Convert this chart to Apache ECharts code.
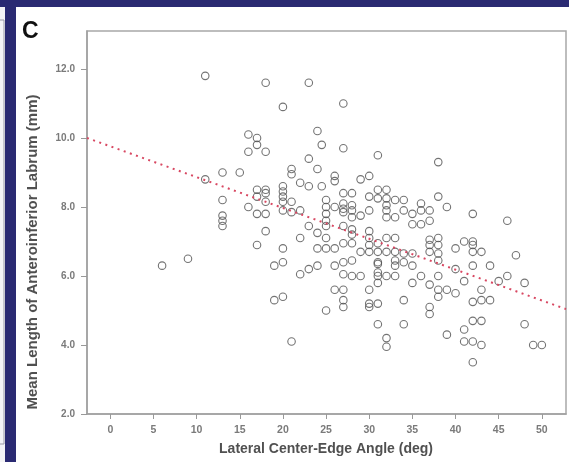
<!DOCTYPE html>
<html><head><meta charset="utf-8">
<script src="https://cdn.jsdelivr.net/npm/echarts@6/dist/echarts.min.js"></script>
<style>html,body{margin:0;padding:0;background:#2a2a72;}#c{width:569px;height:462px;}</style>
</head><body><div id="c"></div>
<script>
// Lateral center-edge angle (deg) and mean labrum length (mm), paired by index
const ceAngle = [
  6, 9, 11, 11,
  13, 13, 13, 13, 13, 15, 16, 16, 16,
  17, 17, 17, 17, 17, 17,
  18, 18, 18, 18, 18, 18, 18,
  19, 19,
  20, 20, 20, 20, 20, 20, 20, 20, 20,
  21, 21, 21, 21, 21,
  22, 22, 22, 22,
  23, 23, 23, 23, 23,
  24, 24, 24, 24, 24, 24.5, 24.5,
  25, 25, 25, 25, 25, 25, 25, 25,
  26, 26, 26, 26, 26, 26,
  27, 27, 27, 27, 27, 27, 27, 27, 27, 27, 27, 27, 27,
  28, 28, 28, 28, 28, 28, 28, 28, 28,
  29, 29, 29, 29,
  30, 30, 30, 30, 30, 30, 30, 30, 30, 30,
  31, 31, 31, 31, 31, 31, 31, 31, 31, 31, 31, 31,
  32, 32, 32, 32, 32, 32, 32, 32, 32, 32,
  33, 33, 33, 33, 33, 33, 33,
  34, 34, 34, 34, 34, 34,
  35, 35, 35, 35, 35,
  36, 36, 36, 36,
  37, 37, 37, 37, 37, 37, 37, 37,
  38, 38, 38, 38, 38, 38, 38, 38, 38,
  39, 39, 39,
  40, 40, 40,
  41, 41, 41, 41,
  42, 42, 42, 42, 42, 42, 42, 42, 42,
  43, 43, 43, 43, 43,
  44, 44, 45, 46, 46, 47, 48, 48, 49, 50
];
const labrumLength = [
  6.3, 6.5, 11.8, 8.8,
  9.0, 8.2, 7.75, 7.6, 7.45, 9.0, 10.1, 9.6, 8.0,
  10.0, 9.8, 8.5, 8.3, 7.8, 6.9,
  11.6, 9.6, 8.5, 8.4, 8.15, 7.8, 7.3,
  6.3, 5.3,
  10.9, 8.6, 8.45, 8.3, 8.15, 7.9, 6.8, 6.4, 5.4,
  9.1, 8.95, 8.15, 7.85, 4.1,
  8.7, 7.9, 7.1, 6.05,
  11.6, 9.4, 8.6, 7.45, 6.2,
  10.2, 9.1, 7.25, 6.8, 6.3, 9.8, 8.6,
  8.2, 8.0, 7.8, 7.6, 7.45, 7.1, 6.8, 5.0,
  8.9, 8.75, 8.0, 6.8, 6.3, 5.6,
  11.0, 9.7, 8.4, 8.1, 7.95, 7.85, 7.45, 6.95, 6.4, 6.05, 5.6, 5.3, 5.1,
  8.4, 8.05, 7.9, 7.7, 7.35, 7.2, 6.95, 6.45, 6.0,
  8.8, 7.75, 6.7, 6.0,
  8.9, 8.3, 7.9, 7.3, 7.1, 6.9, 6.7, 5.6, 5.2, 5.1,
  9.5, 8.5, 8.25, 6.95, 6.7, 6.4, 6.35, 6.1, 6.0, 5.8, 5.2, 4.6,
  8.5, 8.25, 8.05, 7.9, 7.7, 7.1, 6.7, 6.0, 4.2, 3.95,
  8.2, 7.7, 7.1, 6.7, 6.45, 6.3, 6.0,
  8.2, 7.9, 6.65, 6.4, 5.3, 4.6,
  7.8, 7.5, 6.65, 6.3, 5.8,
  8.1, 7.9, 7.5, 6.0,
  7.9, 7.6, 7.05, 6.9, 6.7, 5.75, 5.1, 4.9,
  9.3, 8.3, 7.1, 6.9, 6.65, 6.45, 6.0, 5.6, 5.4,
  8.0, 5.6, 4.3,
  6.8, 6.2, 5.5,
  7.0, 5.85, 4.45, 4.1,
  7.8, 7.0, 6.9, 6.7, 6.3, 5.25, 4.7, 4.1, 3.5,
  6.7, 5.6, 5.3, 4.7, 4.0,
  6.3, 5.3, 5.85, 7.6, 6.0, 6.6, 5.8, 4.6, 4.0, 4.0
];
const xTickValues = [0, 5, 10, 15, 20, 25, 30, 35, 40, 45, 50];
const yTickValues = [2, 4, 6, 8, 10, 12];
// fit line end points (x, y) at the frame edges
const fitX = [-2.7, 52.8];
const fitY = [10.0, 5.04];

const panelLabel = 'C';
const xTitle = 'Lateral Center-Edge Angle (deg)';
const yTitle = 'Mean Length of Anteroinferior Labrum (mm)';

const points = ceAngle.map((x, i) => [x, labrumLength[i]]);
const fitLine = fitX.map((x, i) => [x, fitY[i]]);

const FONT = '"Liberation Sans", Arial, sans-serif';
const chart = echarts.init(document.getElementById('c'), null, {renderer: 'canvas'});
chart.setOption({
  animation: false,
  backgroundColor: '#2a2a72',
  graphic: [
    {type: 'rect', z: -100, shape: {x: 16, y: 7, width: 553, height: 455}, style: {fill: '#ffffff'}},
    {type: 'rect', z: -100, shape: {x: 0, y: 7, width: 5, height: 455}, style: {fill: '#f4f4f6'}},
    {type: 'line', z: -99, shape: {x1: 4, y1: 20, x2: 4, y2: 444}, style: {stroke: '#9a9aa6', lineWidth: 1}},
    {type: 'line', z: -99, shape: {x1: 0, y1: 20, x2: 4, y2: 20}, style: {stroke: '#9a9aa6', lineWidth: 1}},
    {type: 'line', z: -99, shape: {x1: 0, y1: 444, x2: 4, y2: 444}, style: {stroke: '#9a9aa6', lineWidth: 1}},
    {type: 'text', z: 10, x: 22, y: 20, style: {text: panelLabel, font: 'bold 23px ' + FONT, fill: '#111', textAlign: 'left', textVerticalAlign: 'top'}},
    {type: 'text', z: 10, x: 33, y: 252, rotation: Math.PI / 2, style: {text: yTitle, font: 'bold 15px ' + FONT, fill: '#505050', textAlign: 'center', textVerticalAlign: 'middle'}},
    {type: 'text', z: 10, x: 326, y: 449, style: {text: xTitle, font: 'bold 14px ' + FONT, fill: '#505050', textAlign: 'center', textVerticalAlign: 'middle'}}
  ],
  grid: {left: 87, right: 3, top: 31, bottom: 48, show: true, borderColor: '#a8a8a8', borderWidth: 1.5, backgroundColor: 'transparent'},
  xAxis: {
    type: 'value', min: fitX[0], max: fitX[1],
    splitLine: {show: false},
    axisLine: {show: true, onZero: false, lineStyle: {color: '#a0a0a0', width: 1.5}},
    axisTick: {show: true, length: 5, customValues: xTickValues, lineStyle: {color: '#999', width: 1}},
    axisLabel: {customValues: xTickValues, margin: 11, fontSize: 10.5, fontWeight: 'bold', color: '#7a7a7a', fontFamily: FONT}
  },
  yAxis: {
    type: 'value', min: 2, max: 13.1,
    splitLine: {show: false},
    axisLine: {show: true, onZero: false, lineStyle: {color: '#a0a0a0', width: 1.5}},
    axisTick: {show: true, length: 6, customValues: yTickValues, lineStyle: {color: '#999', width: 1}},
    axisLabel: {customValues: yTickValues, margin: 12, fontSize: 10, fontWeight: 'bold', color: '#7a7a7a', fontFamily: FONT,
      formatter: v => v.toFixed(1)}
  },
  series: [
    {
      type: 'scatter', data: points, symbol: 'circle', symbolSize: 7.5,
      itemStyle: {color: 'rgba(255,255,255,0)', borderColor: '#505050', borderWidth: 1.1},
      emphasis: {disabled: true}, z: 2
    },
    {
      type: 'line', data: fitLine, symbol: 'none', silent: true, z: 3,
      lineStyle: {color: '#d84862', width: 2, type: [2, 4.5]}
    }
  ]
});
</script></body></html>
